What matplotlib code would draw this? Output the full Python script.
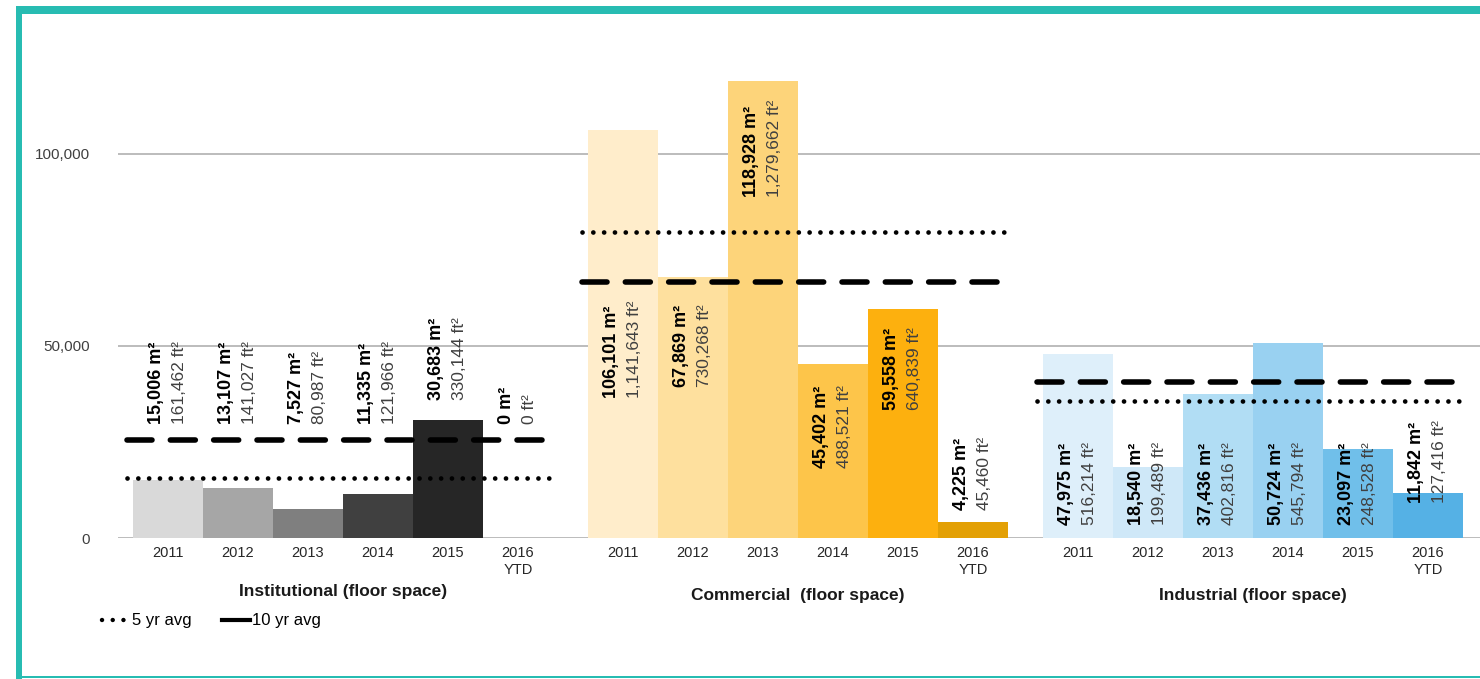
import matplotlib
matplotlib.use("Agg")
import matplotlib.pyplot as plt
from matplotlib.patches import Rectangle
from matplotlib.lines import Line2D

plt.rcParams['font.family'] = ['Liberation Sans', 'DejaVu Sans']

# data
years = ["2011", "2012", "2013", "2014", "2015", "2016\nYTD"]
groups = ["Institutional (floor space)", "Commercial  (floor space)", "Industrial (floor space)"]

inst_m2 = [15006, 13107, 7527, 11335, 30683, 0]
inst_ft2 = [161462, 141027, 80987, 121966, 330144, 0]
comm_m2 = [106101, 67869, 118928, 45402, 59558, 4225]
comm_ft2 = [1141643, 730268, 1279662, 488521, 640839, 45460]
ind_m2 = [47975, 18540, 37436, 50724, 23097, 11842]
ind_ft2 = [516214, 199489, 402816, 545794, 248528, 127416]

avg5 = [15531, 79572, 35554]
avg10 = [25500, 66700, 40600]

# where each pair of value labels starts (bottom of rotated text, data units)
inst_lab = [29700, 29700, 29700, 29700, 35900, 29700]
comm_lab = [36500, 39300, 88800, 18200, 33300, 7300]
ind_lab = [3400, 3400, 3400, 3400, 3400, 9100]

inst_col = ["#d9d9d9", "#a6a6a6", "#7f7f7f", "#404040", "#262626", "#0d0d0d"]
comm_col = ["#ffedcb", "#fee09e", "#fdd47a", "#fdc54a", "#fdb00e", "#e3a005"]
ind_col = ["#deeffa", "#cfe8f8", "#b1ddf4", "#99d1f1", "#70bfea", "#55b1e5"]

m2_sets = [inst_m2, comm_m2, ind_m2]
ft2_sets = [inst_ft2, comm_ft2, ind_ft2]
lab_sets = [inst_lab, comm_lab, ind_lab]
col_sets = [inst_col, comm_col, ind_col]

W, H = 1480, 679
fig = plt.figure(figsize=(W / 100, H / 100), dpi=100)
fig.patch.set_facecolor("white")

# teal frame
teal = "#27bcb2"
fig.add_artist(Rectangle((16 / W, 1 - 14 / H), 1 - 16 / W, 8 / H, transform=fig.transFigure,
                         color=teal, lw=0))
fig.add_artist(Rectangle((16 / W, 0), 6 / W, 1 - 14 / H, transform=fig.transFigure,
                         color=teal, lw=0))
fig.add_artist(Rectangle((16 / W, 1 / H), 1 - 16 / W, 2 / H, transform=fig.transFigure,
                         color=teal, lw=0))

ax = fig.add_axes([118 / W, (H - 538) / H, 1 - 118 / W, 461 / H])
ax.set_xlim(-0.714, 18.743)
ax.set_ylim(0, 120000)

step = 6.5
xticks, xlabels = [], []
dash_style = (0, (4.5, 3.3))
dot_style = (0, (0.01, 2.28))

for g in range(3):
    off = g * step
    xs = [off + i for i in range(len(years))]
    ax.bar(xs, m2_sets[g], width=1.0, color=col_sets[g], zorder=2)
    xticks += xs
    xlabels += years

    ax.plot([off - 0.58, off + 5.5], [avg10[g], avg10[g]], color="black", lw=4,
            linestyle=dash_style, dash_capstyle="round", zorder=3)
    ax.plot([off - 0.58, off + 5.5], [avg5[g], avg5[g]], color="black", lw=3.4,
            linestyle=dot_style, dash_capstyle="round", zorder=3)

    for x, m2, ft2, yl in zip(xs, m2_sets[g], ft2_sets[g], lab_sets[g]):
        ax.text(x - 0.16, yl, f"{m2:,} m²", rotation=90, ha="center", va="bottom",
                fontsize=13, fontweight="bold", color="black", zorder=4)
        ax.text(x + 0.16, yl, f"{ft2:,} ft²", rotation=90, ha="center", va="bottom",
                fontsize=12.5, color="#404040", zorder=4)

    ty = -0.115 if g == 0 else -0.124
    ax.text(off + 2.5, ty, groups[g], transform=ax.get_xaxis_transform(),
            ha="center", va="center", fontsize=12.5, fontweight="bold", color="#1a1a1a")

ax.set_xticks(xticks)
ax.set_xticklabels(xlabels, fontsize=10.5, color="#262626", linespacing=1.2)
ax.set_yticks([0, 50000, 100000])
ax.set_yticklabels(["0", "50,000", "100,000"], fontsize=11, color="#404040")
ax.tick_params(axis="x", length=0, pad=6)
ax.tick_params(axis="y", length=0, pad=20)
ax.yaxis.grid(True, color="#b0b0b0", lw=1.2, zorder=0)
ax.set_axisbelow(True)
for s in ax.spines.values():
    s.set_visible(False)

handles = [
    Line2D([], [], color="black", lw=3.2, linestyle=(0, (0.01, 2.4)), dash_capstyle="round"),
    Line2D([], [], color="black", lw=3),
]
fig.legend(handles, ["5 yr avg", "10 yr avg"], loc="center left",
           bbox_to_anchor=(102 / W, (H - 621) / H), ncol=2, frameon=False,
           fontsize=12, handlelength=1.7, handletextpad=0.1, columnspacing=1.8,
           borderpad=0, borderaxespad=0)

fig.savefig("out.png", dpi=100)
